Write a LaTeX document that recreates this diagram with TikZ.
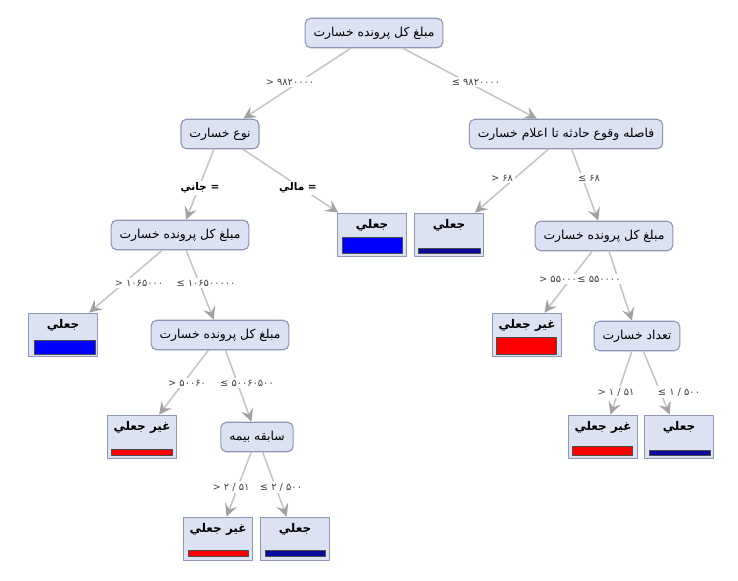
\documentclass[tikz,border=0pt]{standalone}
\usepackage{fontspec}
\newfontfamily\arabicfont[Script=Arabic]{DejaVu Sans}
\newfontfamily\numfont{DejaVu Sans}
\TeXXeTstate=1
\usetikzlibrary{arrows.meta}
\definecolor{nodefill}{HTML}{DDE2F3}
\definecolor{nodeline}{HTML}{8E97B5}
\definecolor{edgegray}{HTML}{C4C4C4}
\definecolor{tipgray}{HTML}{A2A2A2}
\definecolor{barnavy}{HTML}{0A0A9C}
\begin{document}
\begin{tikzpicture}[line cap=round,line join=round,>={Stealth[length=9pt,width=9pt,inset=3.5pt,color=tipgray]},x=0.025cm,y=-0.025cm,
  inner/.style={draw=nodeline,fill=nodefill,rounded corners=4pt,line width=0.8pt,minimum height=21pt,inner xsep=6pt,font=\arabicfont\fontsize{8.8}{10}\selectfont},
  leaf/.style={draw=nodeline,fill=nodefill,line width=0.8pt,minimum width=49pt,minimum height=31pt},
  leaftext/.style={inner sep=0pt,font=\arabicfont\bfseries\fontsize{8.5}{9}\selectfont},
  edge/.style={draw=edgegray,line width=1.1pt,->},
  cond/.style={fill=white,inner sep=1.5pt,text=black!75,font=\numfont\fontsize{7}{8}\selectfont},
  condword/.style={fill=white,inner sep=1.5pt,font=\arabicfont\bfseries\fontsize{7.5}{8}\selectfont},
  fullbar/.style={draw=black!70,line width=0.5pt},
  thinbar/.style={draw=black!70,line width=0.5pt}]
\useasboundingbox (0,0) rectangle (738,580);
% split nodes
\node[inner] (root) at (374,33) {\beginR مبلغ کل پرونده خسارت\endR};
\node[inner] (kind) at (220,134) {\beginR نوع خسارت\endR};
\node[inner] (delay) at (566,134) {\beginR فاصله وقوع حادثه تا اعلام خسارت\endR};
\node[inner] (amountL) at (180,235) {\beginR مبلغ کل پرونده خسارت\endR};
\node[inner] (amountR) at (604,236) {\beginR مبلغ کل پرونده خسارت\endR};
\node[inner] (amountM) at (220,335) {\beginR مبلغ کل پرونده خسارت\endR};
\node[inner] (record) at (257,437) {\beginR سابقه بیمه\endR};
\node[inner] (count) at (637,336) {\beginR تعداد خسارت\endR};
% leaves
\node[leaf] (lfA) at (372,235) {};
\node[leaf] (lfB) at (449,235) {};
\node[leaf] (lfC) at (63,335) {};
\node[leaf] (lfD) at (527,335) {};
\node[leaf] (lfE) at (142,437) {};
\node[leaf] (lfF) at (218,539) {};
\node[leaf] (lfG) at (295,539) {};
\node[leaf] (lfH) at (603,437) {};
\node[leaf] (lfI) at (679,437) {};
\node[leaftext] (lfAt) at (372,225) {\beginR جعلي\endR};
\node[leaftext] (lfBt) at (449,225) {\beginR جعلي\endR};
\node[leaftext] (lfCt) at (63,325) {\beginR جعلي\endR};
\node[leaftext] (lfDt) at (527,325) {\beginR غير جعلي\endR};
\node[leaftext] (lfEt) at (142,427) {\beginR غير جعلي\endR};
\node[leaftext] (lfFt) at (218,529) {\beginR غير جعلي\endR};
\node[leaftext] (lfGt) at (295,529) {\beginR جعلي\endR};
\node[leaftext] (lfHt) at (603,427) {\beginR غير جعلي\endR};
\node[leaftext] (lfIt) at (679,427) {\beginR جعلي\endR};
\draw[fullbar,fill=blue] (342,237) rectangle (402,253);
\draw[thinbar,fill=barnavy] (418,248) rectangle (480,253);
\draw[fullbar,fill=blue] (34,340) rectangle (95,354);
\draw[fullbar,fill=red] (496,337) rectangle (556,354);
\draw[thinbar,fill=red] (111,449) rectangle (172,455);
\draw[thinbar,fill=red] (188,550) rectangle (248,556);
\draw[thinbar,fill=barnavy] (265,550) rectangle (325,556);
\draw[thinbar,fill=red] (572,446) rectangle (632,455);
\draw[thinbar,fill=barnavy] (649,450) rectangle (710,455);
% edges
\draw[edge] (root) -- (kind);
\draw[edge] (root) -- (delay);
\draw[edge] (kind) -- (amountL);
\draw[edge] (kind) -- (lfA);
\draw[edge] (delay) -- (lfB);
\draw[edge] (delay) -- (amountR);
\draw[edge] (amountL) -- (lfC);
\draw[edge] (amountL) -- (amountM);
\draw[edge] (amountR) -- (lfD);
\draw[edge] (amountR) -- (count);
\draw[edge] (amountM) -- (lfE);
\draw[edge] (amountM) -- (record);
\draw[edge] (count) -- (lfH);
\draw[edge] (count) -- (lfI);
\draw[edge] (record) -- (lfF);
\draw[edge] (record) -- (lfG);
% conditions
\node[cond] (c1) at (290,82) {\beginL> ۹۸۲۰۰۰۰\endL};
\node[cond] (c2) at (476,82) {\beginL≤ ۹۸۲۰۰۰۰\endL};
\node[condword] (c3) at (200,188) {\beginR = جاني\endR};
\node[condword] (c4) at (298,188) {\beginR = مالي\endR};
\node[cond] (c5) at (502,178) {\beginL> ۶۸\endL};
\node[cond] (c6) at (589,178) {\beginL≤ ۶۸\endL};
\node[cond] (c7) at (139,283) {\beginL> ۱۰۶۵۰۰۰\endL};
\node[cond] (c8) at (206,283) {\beginL≤ ۱۰۶۵۰۰۰۰۰\endL};
\node[cond] (c9) at (558,279) {\beginL> ۵۵۰۰۰\endL};
\node[cond] (c10) at (599,279) {\beginL≤ ۵۵۰۰۰۰\endL};
\node[cond] (c11) at (187,383) {\beginL> ۵۰۰۶۰\endL};
\node[cond] (c12) at (247,383) {\beginL≤ ۵۰۰۶۰۵۰۰\endL};
\node[cond] (c13) at (616,392) {\beginL> ۱ / ۵۱\endL};
\node[cond] (c14) at (679,392) {\beginL≤ ۱ / ۵۰۰\endL};
\node[cond] (c15) at (231,487) {\beginL> ۲ / ۵۱\endL};
\node[cond] (c16) at (281,487) {\beginL≤ ۲ / ۵۰۰\endL};
\end{tikzpicture}
\end{document}
